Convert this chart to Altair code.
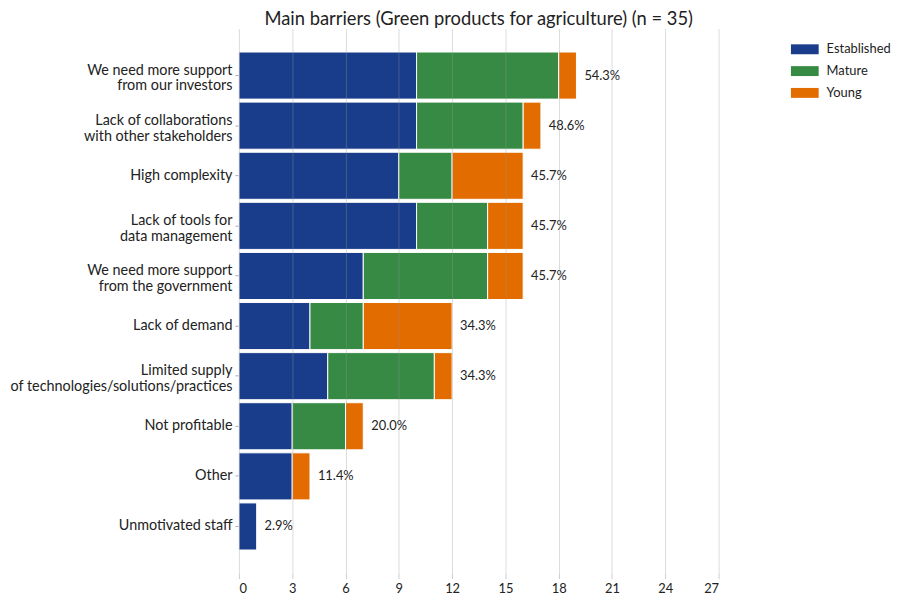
import altair as alt
import pandas as pd

categories = [
    "We need more support\nfrom our investors",
    "Lack of collaborations\nwith other stakeholders",
    "High complexity",
    "Lack of tools for\ndata management",
    "We need more support\nfrom the government",
    "Lack of demand",
    "Limited supply\nof technologies/solutions/practices",
    "Not profitable",
    "Other",
    "Unmotivated staff",
]
groups = ["Established", "Mature", "Young"]
established = [10, 10, 9, 10, 7, 4, 5, 3, 3, 1]
mature = [8, 6, 3, 4, 7, 3, 6, 3, 0, 0]
young = [1, 1, 4, 2, 2, 5, 1, 1, 1, 0]
n_total = 35
colors = ["#1a3d8b", "#378a44", "#e26c00"]

rows = []
for i, c in enumerate(categories):
    for g, vals, k in zip(groups, [established, mature, young], range(3)):
        if vals[i] > 0:
            rows.append({"cat": c, "group": g, "value": vals[i], "ord": k})
df = pd.DataFrame(rows)

totals = pd.DataFrame({
    "cat": categories,
    "total": [e + m + y for e, m, y in zip(established, mature, young)],
})
totals["pct"] = [f"{t / n_total * 100:.1f}%" for t in totals["total"]]

FONT = "Lato"

y_enc = alt.Y(
    "cat:N",
    sort=categories,
    title=None,
    scale=alt.Scale(paddingInner=0.06, paddingOuter=0.47),
    axis=alt.Axis(
        labelExpr="split(datum.label, '\\n')",
        labelFontSize=14.5,
        labelColor="#222222",
        labelFont=FONT,
        labelLineHeight=16,
        labelLimit=400,
        labelOffset={"condition": {"test": "indexof(datum.value, '\\n') >= 0", "value": -5}, "value": 0},
        domain=False,
        ticks=True,
        tickSize=4,
        tickColor="#aaaaaa",
        labelPadding=3,
        grid=False,
    ),
)

bars = alt.Chart(df).mark_bar(stroke="white", strokeWidth=1).encode(
    x=alt.X(
        "value:Q",
        stack="zero",
        title=None,
        scale=alt.Scale(domain=[0, 27], nice=False),
        axis=alt.Axis(
            values=list(range(0, 28, 3)),
            labelFontSize=13,
            labelColor="#222222",
            labelFont=FONT,
            domain=False,
            tickSize=5,
            tickColor="#cccccc",
            gridColor="#999999",
            gridOpacity=0.35,
            zindex=1,
            labelPadding=4,
        ),
    ),
    y=y_enc,
    color=alt.Color(
        "group:N",
        scale=alt.Scale(domain=groups, range=colors),
        legend=alt.Legend(
            title=None,
            orient="none",
            legendX=561,
            legendY=11,
            symbolType="M-1.4,-0.5L1.4,-0.5L1.4,0.5L-1.4,0.5Z",
            symbolSize=400,
            symbolStrokeWidth=0,
            labelFontSize=13,
            labelFont=FONT,
            labelColor="#222222",
            rowPadding=5,
            labelOffset=12,
        ),
    ),
    order=alt.Order("ord:Q"),
)

labels = alt.Chart(totals).mark_text(
    align="left", baseline="middle", dx=8, fontSize=13, font=FONT, color="#222222"
).encode(
    x=alt.X("total:Q"),
    y=alt.Y("cat:N", sort=categories),
    text="pct:N",
)

chart = alt.layer(bars, labels).properties(
    width=484,
    height=550,
    autosize=alt.AutoSizeParams(type="none"),
    padding={"left": 233, "top": 18, "right": 177, "bottom": 21},
    title=alt.TitleParams(
        "Main barriers (Green products for agriculture) (n = 35)",
        fontSize=18.5,
        font=FONT,
        fontWeight="normal",
        color="#222222",
        anchor="middle",
        offset=0,
    ),
).configure_view(stroke=None)

chart.save("out.html", embed_options={"renderer": "svg", "actions": False})
